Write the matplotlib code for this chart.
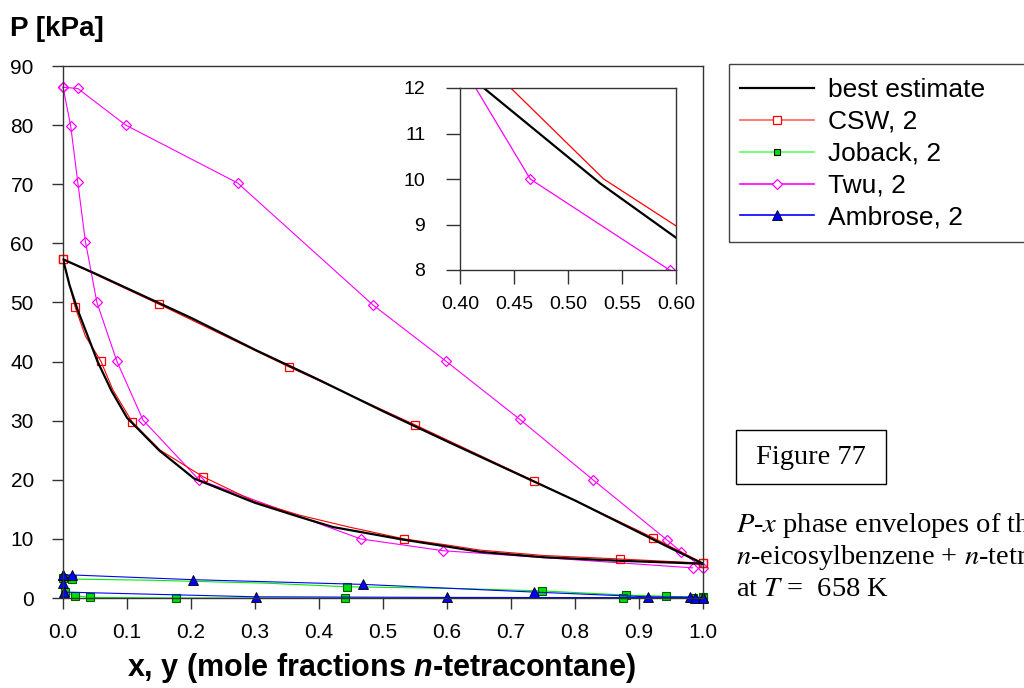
import matplotlib.pyplot as plt
from matplotlib.lines import Line2D
from matplotlib.patches import Rectangle

plt.rcParams['font.family'] = ['Liberation Sans', 'DejaVu Sans']
plt.rcParams['mathtext.fontset'] = 'custom'
plt.rcParams['mathtext.rm'] = 'Liberation Sans:bold'
plt.rcParams['mathtext.it'] = 'Liberation Sans:italic:bold'

# best estimate (black), bubble and dew branches
best_bub_x = [0.0, 0.05, 0.1, 0.15, 0.2, 0.3, 0.4, 0.5, 0.6, 0.7, 0.8, 0.9, 0.95, 1.0]
best_bub_p = [57.3, 54.9, 52.4, 49.9, 47.4, 42.0, 36.9, 31.6, 26.5, 21.5, 16.5, 11.1, 8.4, 5.8]
best_dew_x = [0.0, 0.01, 0.022, 0.038, 0.054, 0.076, 0.1, 0.15, 0.205, 0.3, 0.37, 0.422,
              0.53, 0.6, 0.652, 0.75, 0.87, 1.0]
best_dew_p = [57.3, 53.0, 49.0, 44.5, 40.0, 35.0, 30.5, 25.0, 20.2, 16.1, 13.7, 12.0,
              9.9, 8.71, 7.8, 6.9, 6.3, 5.8]

# CSW, 2
csw_bub_x = [0.0, 0.15, 0.353, 0.55, 0.736, 0.922, 1.0]
csw_bub_p = [57.3, 49.7, 39.1, 29.3, 19.8, 10.2, 5.9]
csw_dew_x = [0.0, 0.019, 0.035, 0.059, 0.078, 0.108, 0.152, 0.219, 0.3, 0.37, 0.447,
             0.533, 0.6, 0.652, 0.75, 0.87, 1.0]
csw_dew_p = [57.3, 49.2, 44.3, 40.1, 35.2, 29.8, 25.0, 20.5, 16.3, 14.0, 12.0,
             10.0, 8.97, 8.1, 7.2, 6.6, 5.9]
csw_dew_marks = [0, 1, 3, 5, 7, 11, 15, 16]

# Joback, 2
job_bub_x = [0.0, 0.014, 0.14, 0.32, 0.444, 0.62, 0.748, 0.88, 0.942, 1.0]
job_bub_p = [3.3, 3.2, 3.0, 2.5, 1.9, 1.6, 1.2, 0.5, 0.3, 0.1]
job_bub_marks = [1, 4, 6, 7, 8, 9]
job_dew_x = [0.0, 0.003, 0.019, 0.042, 0.176, 0.44, 0.875, 0.985, 1.0]
job_dew_p = [3.3, 1.0, 0.4, 0.1, 0.0, 0.0, 0.0, 0.0, 0.0]

# Twu, 2
twu_bub_x = [0.0, 0.023, 0.098, 0.273, 0.484, 0.598, 0.714, 0.828, 0.944, 0.966, 1.0]
twu_bub_p = [86.4, 86.2, 80.0, 70.2, 49.6, 40.1, 30.2, 20.0, 9.8, 7.8, 5.1]
twu_dew_x = [0.0, 0.012, 0.023, 0.035, 0.053, 0.084, 0.125, 0.2125, 0.465, 0.594, 0.984]
twu_dew_p = [86.4, 79.9, 70.4, 60.3, 50.0, 40.1, 30.1, 20.0, 10.0, 8.0, 5.1]

# Ambrose, 2
amb_bub_x = [0.0, 0.014, 0.203, 0.469, 0.736, 0.914, 0.98, 1.0]
amb_bub_p = [3.9, 3.9, 3.1, 2.3, 1.0, 0.2, 0.15, 0.1]
amb_dew_x = [0.0, 0.0005, 0.002, 0.302, 0.6, 0.988, 1.0]
amb_dew_p = [3.9, 2.5, 1.0, 0.2, 0.1, 0.05, 0.05]

fig = plt.figure(figsize=(10.24, 6.88), dpi=100)
ax = fig.add_axes([63 / 1024, 1 - 598 / 688, 640 / 1024, 532 / 688])

sty_csw = dict(color='red', lw=0.8, marker='s', ms=6, mfc='none', mec='red', mew=0.9)
sty_job = dict(color='#00ee00', lw=0.8, marker='s', ms=6, mfc='#00dd00', mec='#006000', mew=0.8)
sty_twu = dict(color='magenta', lw=0.8, marker='D', ms=5.5, mfc='none', mec='magenta', mew=0.9)
sty_amb = dict(color='blue', lw=0.8, marker='^', ms=7.5, mfc='blue', mec='black', mew=0.6)

ax.plot(job_bub_x, job_bub_p, markevery=job_bub_marks, clip_on=False, **sty_job)
ax.plot(job_dew_x, job_dew_p, clip_on=False, **sty_job)
ax.plot(amb_bub_x, amb_bub_p, clip_on=False, **sty_amb)
ax.plot(amb_dew_x, amb_dew_p, clip_on=False, **sty_amb)
ax.plot(twu_bub_x, twu_bub_p, clip_on=False, **sty_twu)
ax.plot(twu_dew_x, twu_dew_p, clip_on=False, **sty_twu)
ax.plot(csw_bub_x, csw_bub_p, clip_on=False, **sty_csw)
ax.plot(csw_dew_x, csw_dew_p, markevery=csw_dew_marks, clip_on=False, **sty_csw)
ax.plot(best_bub_x, best_bub_p, color='black', lw=1.6, zorder=4)
ax.plot(best_dew_x, best_dew_p, color='black', lw=1.6, zorder=4)

ax.set_xlim(0, 1.0)
ax.set_ylim(0, 90)
ax.set_xticks([i / 10 for i in range(11)])
ax.set_xticklabels(['%.1f' % (i / 10) for i in range(11)])
ax.set_yticks(range(0, 91, 10))
ax.tick_params(axis='both', direction='out', length=8, width=1, labelsize=15, colors='#333333',
               labelcolor='black')
ax.tick_params(axis='y', pad=13)
ax.tick_params(axis='x', pad=10)
for s in ax.spines.values():
    s.set_color('#333333')
    s.set_linewidth(1)

# inset
axi = fig.add_axes([460 / 1024, 1 - 270 / 688, 216 / 1024, 182 / 688])
axi.plot(csw_dew_x, csw_dew_p, color='red', lw=0.9)
axi.plot(twu_dew_x, twu_dew_p, color='magenta', lw=0.9, marker='D', ms=5.5, mfc='none',
         mec='magenta', mew=0.9)
axi.plot(best_dew_x, best_dew_p, color='black', lw=1.6)
axi.set_xlim(0.4, 0.6)
axi.set_ylim(8, 12)
axi.set_xticks([0.40, 0.45, 0.50, 0.55, 0.60])
axi.set_xticklabels(['0.40', '0.45', '0.50', '0.55', '0.60'])
axi.set_yticks([8, 9, 10, 11, 12])
axi.tick_params(axis='both', direction='out', length=10, width=1, labelsize=14, colors='#333333',
                labelcolor='black')
axi.tick_params(axis='y', pad=15)
axi.tick_params(axis='x', pad=9)
for s in axi.spines.values():
    s.set_color('#333333')
    s.set_linewidth(1)

# axis titles
fig.text(10 / 1024, 1 - 29 / 688, 'P [kPa]', fontsize=20, fontweight='bold', va='center', ha='left')
fig.text(381 / 1024, 1 - 668 / 688, 'x, y (mole fractions $n$-tetracontane)', fontsize=22,
         fontweight='bold', ha='center', va='center')

# legend
fig.patches.append(Rectangle((729 / 1024, 1 - 242 / 688), 0.4, 178 / 688, transform=fig.transFigure,
                             fill=False, edgecolor='#444444', lw=1))
handles = [
    Line2D([], [], color='black', lw=1.6),
    Line2D([], [], color='#ff6060', lw=1.2, marker='s', ms=6, mfc='white', mec='red', mew=0.9),
    Line2D([], [], color='#60ff60', lw=1.2, marker='s', ms=5, mfc='#00dd00', mec='black', mew=0.8),
    Line2D([], [], color='magenta', lw=1.2, marker='D', ms=5.5, mfc='white', mec='magenta', mew=0.9),
    Line2D([], [], color='blue', lw=1.2, marker='^', ms=7, mfc='blue', mec='black', mew=0.6),
]
labels = ['best estimate', 'CSW, 2', 'Joback, 2', 'Twu, 2', 'Ambrose, 2']
fig.legend(handles, labels, loc='upper left', bbox_to_anchor=(740 / 1024, 1 - 78 / 688),
           frameon=False, fontsize=19, handlelength=2.8, handletextpad=0.55, labelspacing=0.3,
           borderpad=0, borderaxespad=0)

# figure tag and caption (runs off the right edge as in the original page)
fig.patches.append(Rectangle((736 / 1024, 1 - 484 / 688), 150 / 1024, 54 / 688,
                             transform=fig.transFigure, fill=False, edgecolor='black', lw=1))
fig.text(811 / 1024, 1 - 457 / 688, 'Figure 77', fontsize=20.5, family='Liberation Serif',
         ha='center', va='center')
caption = [r'$P$-$x$ phase envelopes of the',
           r'$n$-eicosylbenzene + $n$-tetracontane',
           r'at $T$ =  658 K']
for i, line in enumerate(caption):
    fig.text(736 / 1024, 1 - (525 + 32 * i) / 688, line, fontsize=20.5, family='Liberation Serif',
             math_fontfamily='stix', ha='left', va='center')

fig.savefig('out.png', dpi=100)
